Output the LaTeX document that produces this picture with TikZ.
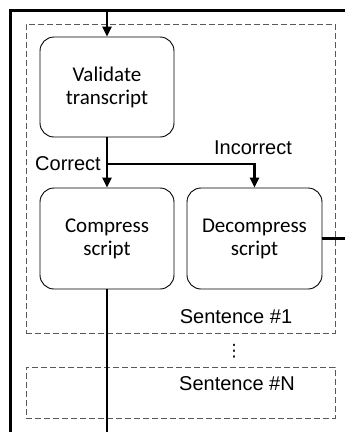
\documentclass[tikz,border=0pt]{standalone}
\usepackage{fontspec}
\setmainfont{Liberation Sans}
\newfontfamily\boxfont{Carlito}
\newfontfamily\dotfont{DejaVu Sans}
\usetikzlibrary{arrows.meta}
\begin{document}
\begin{tikzpicture}[x=1pt,y=-1pt,
 procbox/.style={draw=black, line width=0.9pt, rounded corners=14pt, minimum width=134pt, minimum height=100pt, align=center, font=\boxfont\fontsize{21}{23}\selectfont, inner sep=0pt, fill=white},
 groupbox/.style={draw=black!65, line width=0.8pt, dash pattern=on 6pt off 3pt, inner sep=0pt},
 lbl/.style={font=\fontsize{20}{22}\selectfont, inner sep=0pt},
 thickline/.style={line width=3pt},
 flowline/.style={line width=2.6pt},
 flow/.style={flowline, -{Triangle[length=10pt,width=9pt]}},
]
\useasboundingbox (0,0) rectangle (345,432);
% group boxes
\node[groupbox, minimum width=309pt, minimum height=309pt] (s1) at (180.5,178.5) {};
\node[groupbox, minimum width=309pt, minimum height=51pt] (sn) at (180.5,392.5) {};
% process boxes
\node[procbox] (val) at (107,87) {Validate\\transcript};
\node[procbox, minimum height=101pt] (comp) at (107,238.5) {Compress\\script};
\node[procbox, minimum height=101pt, minimum width=135pt] (dec) at (254.5,238.5) {Decompress\\script};
% outer thick line
\coordinate (tl) at (10,10);
\coordinate (tr) at (347,10);
\coordinate (bl) at (10,434);
\draw[thickline] (bl) -- (tl) -- (tr);
% input arrow
\coordinate (in) at (107,10);
\draw[flow] (in) -- (val.north);
% branch
\coordinate (br) at (107,164);
\coordinate (bi) at (254.5,164);
\draw[flow] (val.south) -- (comp.north);
\draw[flow] (br) -- (bi) -- (dec.north);
% outputs
\coordinate (out) at (347,238.5);
\draw[flowline] (dec.east) -- (out);
\coordinate (down) at (107,434);
\draw[line width=2pt] (comp.south) -- (down);
% labels
\node[lbl, anchor=base east] (lc) at (101,170) {Correct};
\node[lbl, anchor=base] (li) at (253,154) {Incorrect};
\node[lbl, anchor=base] (ls1) at (236,323) {Sentence \#1};
\node[lbl, anchor=base] (lsn) at (237,390) {Sentence \#N};
\node[inner sep=0pt, font=\dotfont\fontsize{17}{17}\selectfont] (dots) at (234,351) {⋮};
\end{tikzpicture}
\end{document}
